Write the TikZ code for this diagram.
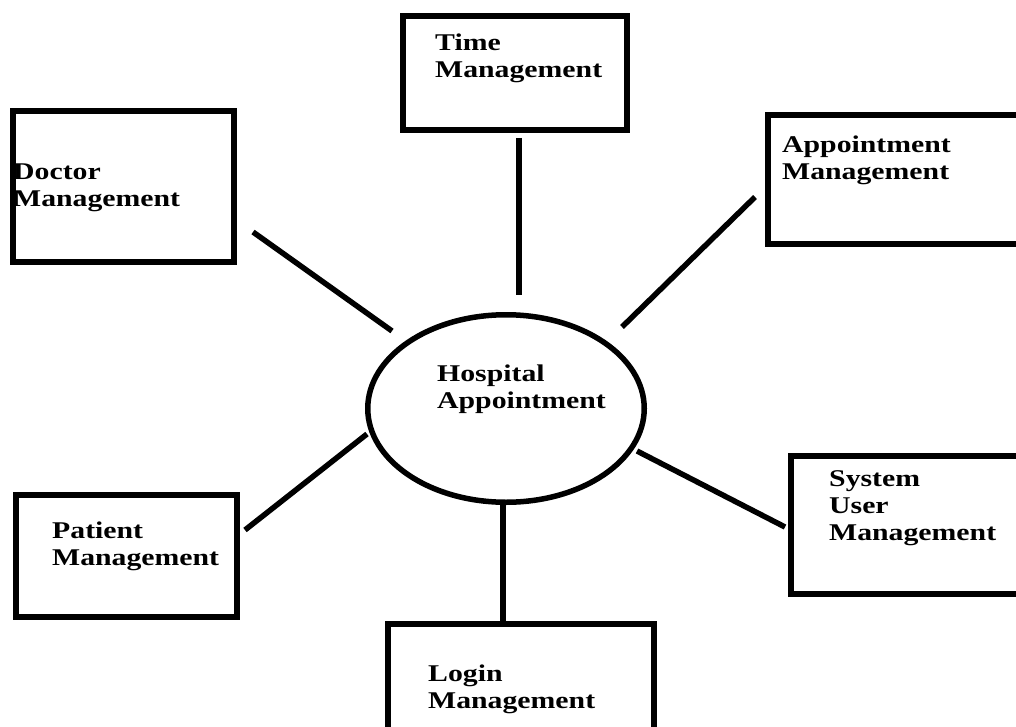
\documentclass[tikz,border=0pt]{standalone}
\usepackage{fontspec}
\setmainfont{Liberation Serif}[FakeStretch=1.24]
\usepackage{tikz}
\usetikzlibrary{shapes.geometric}
\definecolor{ink}{HTML}{000000}
\tikzset{box/.style={draw=ink,line width=6pt,inner sep=0pt},hub/.style={ellipse,draw=ink,line width=5.5pt,inner sep=0pt},link/.style={draw=ink,line width=5.5pt},lbl/.style={font=\fontsize{24}{27}\selectfont\bfseries,align=left,inner sep=0pt,anchor=base west}}

\begin{document}
\begin{tikzpicture}[x=1pt,y=-1pt]
 \useasboundingbox (0,0) rectangle (1016,727); \clip (0,0) rectangle (1016,727); \fill[white] (0,0) rectangle (1016,727);
 % centre
 \node[hub,minimum width=276.5pt,minimum height=187.5pt] (hosp) at (506,408.5) {};
 \node[lbl] (hosp-t) at ([shift={(72,0)}]hosp.west) {Hospital\\Appointment};
 % modules
 \node[box,minimum width=224pt,minimum height=114pt] (time) at (515,73) {};
 \node[lbl] (time-t) at ([shift={(35,65)}]time.north west) {Time\\Management};
 \node[box,minimum width=221pt,minimum height=151pt] (doc) at (123.5,186.5) {};
 \node[lbl] (doc-t) at ([shift={(3,99)}]doc.north west) {Doctor\\Management};
 \node[box,minimum width=259pt,minimum height=129pt] (appt) at (897.5,179.5) {};
 \node[lbl] (appt-t) at ([shift={(17,68)}]appt.north west) {Appointment\\Management};
 \node[box,minimum width=221pt,minimum height=122pt] (pat) at (126.5,556) {};
 \node[lbl] (pat-t) at ([shift={(39,73)}]pat.north west) {Patient\\Management};
 \node[box,minimum width=236pt,minimum height=138pt] (sys) at (909,525) {};
 \node[lbl] (sys-t) at ([shift={(41,87)}]sys.north west) {System\\User\\Management};
 \node[box,minimum width=266pt,minimum height=113pt] (login) at (521,680.5) {};
 \node[lbl] (login-t) at ([shift={(43,87)}]login.north west) {Login\\Management};
 % links
 \draw[link] ([shift={(4,5)}]time.south) -- ([shift={(13,-17)}]hosp.north);
 \draw[link] ([shift={(16,45.5)}]doc.east) -- ([shift={(27,-77.5)}]hosp.west);
 \draw[link] ([shift={(-10,17.5)}]appt.west) -- ([shift={(-25,-81.5)}]hosp.east);
 \draw[link] ([shift={(5,-26)}]pat.east) -- ([shift={(2,25.5)}]hosp.west);
 \draw[link] ([shift={(-3,2)}]sys.west) -- ([shift={(-10,42.5)}]hosp.east);
 \draw[link] ([shift={(-3,0)}]hosp.south) -- ([shift={(-18,0)}]login.north);
\end{tikzpicture}
\end{document}
